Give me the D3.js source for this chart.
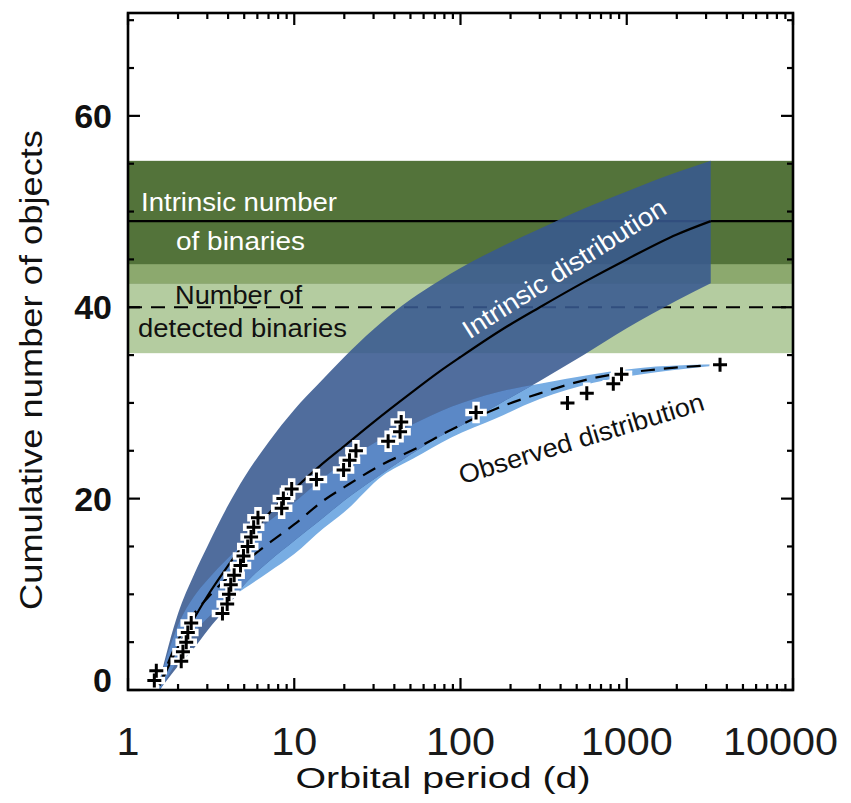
<!DOCTYPE html>
<html>
<head>
<meta charset="utf-8">
<script src="https://cdn.jsdelivr.net/npm/d3@7/dist/d3.min.js"></script>
<style>
  html, body { margin: 0; padding: 0; background: #fff; }
  svg { display: block; }
  text { font-family: "Liberation Sans", Arial, Helvetica, sans-serif; }
</style>
</head>
<body>
<svg id="chart" width="851" height="803"></svg>
<script>
// ---------------- data ----------------
const xTickValues = [1, 10, 100, 1000, 10000];
const xTickLabels = ["1", "10", "100", "1000", "10000"];
const yTickValues = [0, 20, 40, 60];
const yTickLabels = ["0", "20", "40", "60"];

// horizontal reference bands: [low, centre, high]
const intrinsicTotal = [42.5, 49, 55.3];
const detectedTotal = [35.2, 40, 44.5];

// intrinsic cumulative distribution (period in days)
const intrinsicPeriod = [1.55, 2, 2.5, 3, 4, 5, 7, 10, 14, 20, 30, 50, 75, 100, 175, 300, 550, 1000, 2000, 3200];
const intrinsicMid    = [0.5, 4.5, 7.5, 9.8, 13, 15.3, 18.4, 21, 23.3, 25.5, 28, 31, 33.3, 34.8, 37.6, 40, 42.6, 45, 47.6, 49];
const intrinsicHigh   = [1, 8, 12.1, 15, 19.3, 22.2, 25.9, 29.3, 32, 34.8, 37.7, 40.8, 42.8, 44.1, 46.3, 48.2, 50.3, 52.1, 54.1, 55.3];
const intrinsicLow    = [0, 2.5, 4.4, 6.2, 8.8, 11, 13.4, 15.6, 17.6, 19.8, 22, 24.6, 26.5, 27.6, 30, 32.3, 35, 37.8, 40.7, 42.5];

// observed (detected) cumulative distribution
const observedPeriod = [1.55, 2, 2.5, 3, 4, 5, 7, 10, 15, 20, 34, 52, 88, 164, 300, 630, 1500, 3640];
const observedMid    = [0.5, 5.2, 8, 9.6, 11.8, 13.3, 15.3, 17.3, 19.8, 21.2, 23.6, 25.1, 27.2, 29.4, 31, 32.6, 33.5, 34];
const observedHigh   = [1, 6.8, 9.8, 11.5, 13.8, 15.4, 17.6, 19.6, 22.2, 23.8, 26.3, 27.8, 29.6, 31.1, 32, 33, 33.8, 34.05];
const observedLow    = [0, 3.2, 6, 7.5, 9.4, 10.6, 12.3, 14.2, 16.9, 18.6, 22.4, 24.2, 26.4, 28.4, 30.4, 32.1, 33.2, 33.95];

// detected binaries (cumulative count vs period)
const binaryPeriod = [1.44, 1.48, 2.09, 2.14, 2.24, 2.29, 2.4, 3.7, 3.95, 4.05, 4.15, 4.35, 4.75, 4.95, 5.25, 5.5, 5.7, 6.05,
                      8.4, 8.6, 9.65, 13.6, 19.8, 21.5, 23.5, 36.7, 43.3, 44, 124, 440, 575, 830, 930, 3640];
const binaryCount  = [1, 2, 3, 4, 5, 6, 7, 8, 9, 10, 11, 12, 13, 14, 15, 16, 17, 18,
                      19, 20, 21, 22, 23, 24, 25, 26, 27, 28, 29, 30, 31, 32, 33, 34];

// ---------------- layout ----------------
const svg = d3.select("#chart");
const L = 128, R = 793, T = 13, B = 690;
const x = d3.scaleLog().domain([1, 10000]).range([L, R]);
const y = d3.scaleLinear().domain([0, 70.75]).range([B, T]);

const C = {
  darkGreen: "#53733a", midGreen: "#8ca96e", lightGreen: "#b4cca0",
  intr: "#38598f", obsLight: "#78ade3", obsMid: "#5b88c6"
};

const defs = svg.append("defs");
defs.append("clipPath").attr("id", "plotClip")
  .append("rect").attr("x", L).attr("y", T).attr("width", R - L).attr("height", B - T);

const plot = svg.append("g").attr("clip-path", "url(#plotClip)");

// green bands
plot.append("rect").attr("x", L).attr("width", R - L)
  .attr("y", y(detectedTotal[2])).attr("height", y(detectedTotal[0]) - y(detectedTotal[2]))
  .attr("fill", C.lightGreen);
plot.append("rect").attr("x", L).attr("width", R - L)
  .attr("y", y(intrinsicTotal[2])).attr("height", y(intrinsicTotal[0]) - y(intrinsicTotal[2]))
  .attr("fill", C.darkGreen);
const ovLo = Math.max(intrinsicTotal[0], detectedTotal[0]);
const ovHi = Math.min(intrinsicTotal[2], detectedTotal[2]);
plot.append("rect").attr("x", L).attr("width", R - L)
  .attr("y", y(ovHi)).attr("height", y(ovLo) - y(ovHi))
  .attr("fill", C.midGreen);

// horizontal lines
plot.append("line").attr("x1", L).attr("x2", R)
  .attr("y1", y(intrinsicTotal[1])).attr("y2", y(intrinsicTotal[1]))
  .attr("stroke", "#000").attr("stroke-width", 2.2);
plot.append("line").attr("x1", L).attr("x2", R)
  .attr("y1", y(detectedTotal[1])).attr("y2", y(detectedTotal[1]))
  .attr("stroke", "#000").attr("stroke-width", 2).attr("stroke-dasharray", "14,9");

// areas
const intrRows = intrinsicPeriod.map((p, i) => ({p, lo: intrinsicLow[i], mid: intrinsicMid[i], hi: intrinsicHigh[i]}));
const obsRows = observedPeriod.map((p, i) => ({p, lo: observedLow[i], mid: observedMid[i], hi: observedHigh[i]}));

const area = d3.area().x(d => x(d.p)).y0(d => y(d.lo)).y1(d => y(d.hi)).curve(d3.curveMonotoneX);
const midLine = d3.line().x(d => x(d.p)).y(d => y(d.mid)).curve(d3.curveMonotoneX);

plot.append("path").attr("d", area(obsRows)).attr("fill", C.obsLight);
plot.append("path").attr("d", area(intrRows)).attr("fill", C.intr).attr("fill-opacity", 0.88);

defs.append("clipPath").attr("id", "intrClip")
  .append("path").attr("d", area(intrRows));
plot.append("g").attr("clip-path", "url(#intrClip)")
  .append("path").attr("d", area(obsRows)).attr("fill", C.obsMid);

// curves
plot.append("path").attr("d", midLine(intrRows)).attr("fill", "none")
  .attr("stroke", "#000").attr("stroke-width", 2.2);
plot.append("path").attr("d", midLine(obsRows)).attr("fill", "none")
  .attr("stroke", "#000").attr("stroke-width", 2.2).attr("stroke-dasharray", "14,9");

// binaries as plus markers
const arm = 7;
const crossD = `M${-arm},0H${arm}M0,${-arm}V${arm}`;
const pts = binaryPeriod.map((p, i) => ({p, n: binaryCount[i]}));
const mk = plot.append("g");
mk.selectAll("path.halo").data(pts).join("path").attr("class", "halo")
  .attr("d", crossD).attr("transform", d => `translate(${x(d.p)},${y(d.n)})`)
  .attr("stroke", "#fff").attr("stroke-width", 7.5).attr("stroke-linecap", "square").attr("fill", "none");
mk.selectAll("path.plus").data(pts).join("path").attr("class", "plus")
  .attr("d", crossD).attr("transform", d => `translate(${x(d.p)},${y(d.n)})`)
  .attr("stroke", "#000").attr("stroke-width", 3).attr("stroke-linecap", "butt").attr("fill", "none");

// annotation texts
const ann = svg.append("g").style("font-size", "26px");
ann.append("text").attr("x", 141).attr("y", 211).attr("fill", "#fff")
  .attr("textLength", 196).attr("lengthAdjust", "spacingAndGlyphs").text("Intrinsic number");
ann.append("text").attr("x", 176).attr("y", 250).attr("fill", "#fff")
  .attr("textLength", 129).attr("lengthAdjust", "spacingAndGlyphs").text("of binaries");
ann.append("text").attr("x", 175).attr("y", 304).attr("fill", "#111")
  .attr("textLength", 127).attr("lengthAdjust", "spacingAndGlyphs").text("Number of");
ann.append("text").attr("x", 138).attr("y", 337).attr("fill", "#111")
  .attr("textLength", 209).attr("lengthAdjust", "spacingAndGlyphs").text("detected binaries");
ann.append("text").attr("transform", "translate(569,276) rotate(-32.5)")
  .attr("text-anchor", "middle").attr("fill", "#fff")
  .attr("textLength", 236).attr("lengthAdjust", "spacingAndGlyphs").text("Intrinsic distribution");
ann.append("text").attr("transform", "translate(584,447) rotate(-17)")
  .attr("text-anchor", "middle").attr("fill", "#111")
  .attr("textLength", 255).attr("lengthAdjust", "spacingAndGlyphs").text("Observed distribution");

// frame
svg.append("rect").attr("x", L).attr("y", T).attr("width", R - L).attr("height", B - T)
  .attr("fill", "none").attr("stroke", "#000").attr("stroke-width", 2.6);

// ticks (inward, on all four sides)
const minorX = [];
for (let d = 1; d < 10000; d *= 10) for (let k = 2; k <= 9; k++) minorX.push(d * k);
const minorY = d3.range(0, 71, 5).filter(v => v % 20 !== 0);
const tk = svg.append("g").attr("stroke", "#000").attr("stroke-width", 2.2);
xTickValues.forEach(v => {
  tk.append("line").attr("x1", x(v)).attr("x2", x(v)).attr("y1", B).attr("y2", B - 12);
  tk.append("line").attr("x1", x(v)).attr("x2", x(v)).attr("y1", T).attr("y2", T + 12);
});
minorX.forEach(v => {
  tk.append("line").attr("x1", x(v)).attr("x2", x(v)).attr("y1", B).attr("y2", B - 6);
  tk.append("line").attr("x1", x(v)).attr("x2", x(v)).attr("y1", T).attr("y2", T + 6);
});
yTickValues.forEach(v => {
  tk.append("line").attr("y1", y(v)).attr("y2", y(v)).attr("x1", L).attr("x2", L + 12);
  tk.append("line").attr("y1", y(v)).attr("y2", y(v)).attr("x1", R).attr("x2", R - 12);
});
minorY.forEach(v => {
  tk.append("line").attr("y1", y(v)).attr("y2", y(v)).attr("x1", L).attr("x2", L + 6);
  tk.append("line").attr("y1", y(v)).attr("y2", y(v)).attr("x1", R).attr("x2", R - 6);
});

// tick labels
const xl = svg.append("g").style("font-size", "38px").attr("fill", "#1a1a1a");
xTickValues.forEach((v, i) => {
  const w = xTickLabels[i].length * 23;
  const cx = Math.min(x(v), 851 - 13 - w / 2);
  xl.append("text").attr("x", cx).attr("y", 755).attr("text-anchor", "middle")
    .attr("textLength", w).attr("lengthAdjust", "spacingAndGlyphs")
    .text(xTickLabels[i]);
});
const yl = svg.append("g").style("font-size", "34px").style("font-weight", "bold").attr("fill", "#111");
yTickValues.forEach((v, i) => {
  yl.append("text").attr("x", 112).attr("y", Math.min(y(v), B - 10) + 12).attr("text-anchor", "end")
    .text(yTickLabels[i]);
});

// axis titles
svg.append("text").attr("x", 443).attr("y", 788).attr("text-anchor", "middle")
  .style("font-size", "30px").attr("fill", "#111")
  .attr("textLength", 295).attr("lengthAdjust", "spacingAndGlyphs").text("Orbital period (d)");
svg.append("text").attr("transform", "translate(42,370) rotate(-90)").attr("text-anchor", "middle")
  .style("font-size", "32px").attr("fill", "#111")
  .attr("textLength", 480).attr("lengthAdjust", "spacingAndGlyphs").text("Cumulative number of objects");
</script>
</body>
</html>
